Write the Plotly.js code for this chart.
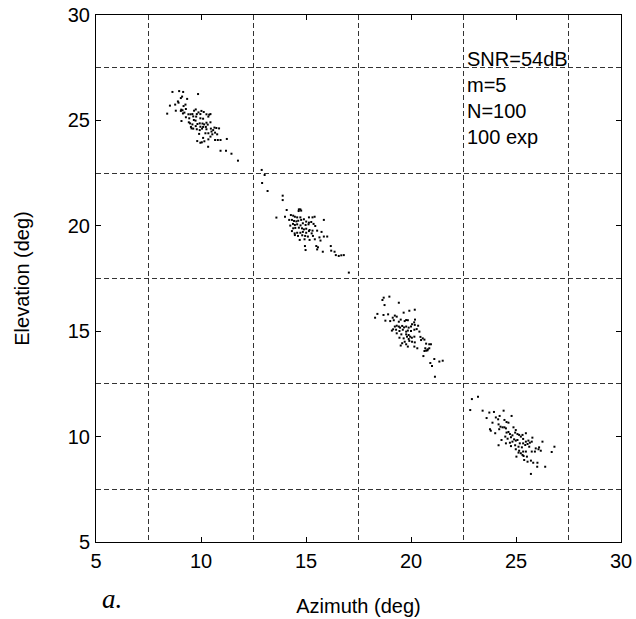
<!DOCTYPE html>
<html>
<head>
<meta charset="utf-8">
<script src="https://cdn.plot.ly/plotly-3.0.1.min.js"></script>
<style>html,body{margin:0;padding:0;background:#fff;}#chart{width:636px;height:619px;}</style>
</head>
<body>
<div id="chart"></div>
<script>
// Source 1 (near az 10, el 25)
const az1 = [8.64,8.96,9.15,9.86,9.10,9.04,9.34,8.90,8.93,8.52,8.77,9.26,9.17,9.06,9.12,9.04,9.75,9.67,9.28,10.02,10.13,9.88,8.39,8.80,9.14,9.21,9.40,9.50,9.59,9.80,9.97,10.26,10.39,10.45,10.35,9.28,9.44,9.63,9.77,9.97,10.10,9.74,9.07,9.42,9.66,10.26,10.45,9.48,9.59,9.83,9.94,10.07,10.15,10.32,9.75,9.97,10.10,10.23,9.52,9.55,10.64,10.73,10.86,9.63,9.80,9.94,10.05,10.26,10.47,10.58,10.67,10.50,10.35,9.91,10.21,10.77,10.54,10.10,10.45,10.35,10.16,9.82,9.97,10.04,10.67,10.80,10.93,11.23,10.34,10.93,11.19,11.45,11.76];
const el1 = [26.35,26.39,26.35,26.25,26.13,26.06,26.02,25.90,25.84,25.70,25.75,25.75,25.68,25.51,25.48,25.45,25.52,25.46,25.54,25.45,25.40,25.38,25.32,25.46,25.33,25.37,25.29,25.29,25.30,25.30,25.30,25.29,25.27,25.30,25.18,25.15,25.10,25.19,25.18,25.10,25.08,24.99,24.97,24.91,25.02,24.89,24.91,24.86,24.81,24.83,24.86,24.85,24.81,24.80,24.73,24.70,24.69,24.69,24.69,24.62,24.66,24.64,24.62,24.61,24.58,24.54,24.61,24.58,24.61,24.54,24.42,24.47,24.39,24.36,24.39,24.34,24.34,24.17,24.23,24.10,24.01,24.02,23.94,23.96,24.07,24.07,24.07,24.12,23.75,23.56,23.56,23.42,23.09];
// Source 2 (near az 15, el 20)
const az2 = [12.89,13.03,12.91,13.17,13.89,13.89,14.08,14.66,14.73,14.77,14.65,13.59,14.00,14.28,14.39,14.47,14.58,14.73,15.14,15.31,15.41,15.85,14.20,14.33,14.43,14.54,14.63,14.77,14.90,15.01,15.14,15.25,15.36,15.44,14.25,14.38,14.47,14.58,14.74,14.85,14.98,15.12,14.39,14.49,14.66,14.81,14.90,15.01,15.17,15.31,15.53,15.74,14.33,14.46,14.58,14.73,14.85,15.01,15.14,15.27,14.47,14.62,14.82,14.96,15.09,15.33,15.64,15.85,14.70,14.93,15.17,15.42,15.69,16.01,14.95,14.98,15.49,15.57,15.53,15.80,16.18,16.20,16.36,16.56,16.68,16.80,16.42,17.04];
const el2 = [22.65,22.41,22.03,21.65,21.43,21.22,20.75,20.78,20.78,20.72,20.70,20.39,20.43,20.51,20.48,20.43,20.40,20.40,20.40,20.40,20.43,20.28,20.28,20.28,20.23,20.21,20.24,20.28,20.31,20.20,20.15,20.18,20.09,19.99,20.01,20.09,20.04,20.07,20.02,20.12,20.04,20.07,19.88,19.90,19.91,19.88,19.83,19.86,19.80,19.77,19.77,19.71,19.75,19.64,19.67,19.67,19.71,19.67,19.75,19.64,19.56,19.52,19.55,19.52,19.49,19.52,19.45,19.49,19.33,19.36,19.33,19.36,19.30,19.49,19.04,18.85,19.04,18.98,18.88,18.77,19.04,18.82,18.77,18.57,18.60,18.61,18.61,17.78];
// Source 3 (near az 20, el 15)
const az3 = [18.70,18.64,18.97,18.74,19.42,19.92,20.18,18.40,18.29,18.69,18.91,19.13,18.78,19.23,19.32,19.65,19.77,20.19,20.15,19.01,19.18,19.42,19.51,19.70,19.85,20.05,20.18,20.34,19.23,19.32,19.42,19.48,19.58,19.67,19.77,19.89,20.00,19.09,19.15,19.29,19.45,19.61,19.77,19.85,20.00,20.16,20.27,20.40,19.32,19.54,19.77,19.89,19.96,19.81,20.04,20.16,20.45,20.56,20.64,19.45,19.65,19.89,19.70,19.92,20.05,20.18,20.48,19.58,19.77,19.51,19.85,20.16,20.30,20.72,20.87,20.95,20.68,20.80,20.87,20.64,20.72,20.78,20.59,21.11,21.35,21.51,20.92,21.00,21.14];
const el3 = [16.59,16.48,16.64,16.24,16.35,15.97,16.02,15.82,15.64,15.77,15.80,15.64,15.50,15.74,15.69,15.88,15.53,15.55,15.42,15.48,15.52,15.45,15.55,15.48,15.52,15.33,15.30,15.26,15.22,15.26,15.22,15.17,15.25,15.18,15.22,15.17,15.22,15.03,15.09,15.07,15.01,15.07,14.98,15.03,15.01,15.07,15.10,14.98,14.90,14.85,14.85,14.82,14.74,14.74,14.69,14.74,14.73,14.66,14.60,14.69,14.66,14.63,14.50,14.54,14.50,14.47,14.58,14.43,14.38,14.32,14.27,14.27,14.19,14.41,14.38,14.38,14.19,14.14,14.19,14.06,14.08,14.09,13.82,13.68,13.56,13.60,13.49,13.35,12.84];
// Source 4 (near az 25, el 10)
const az4 = [22.90,23.19,22.82,23.41,23.73,23.95,24.41,24.22,24.79,23.60,24.04,24.15,24.45,24.55,24.64,23.88,24.17,24.26,24.36,24.45,24.20,23.76,23.80,24.01,24.52,24.88,24.99,24.55,24.64,24.71,24.83,24.96,25.07,25.15,25.31,25.47,24.49,24.60,24.76,24.91,25.07,25.23,25.34,25.47,25.59,25.78,24.31,24.52,24.71,24.83,24.99,25.18,25.34,25.55,25.66,25.75,26.26,24.17,24.76,24.96,25.12,25.28,25.44,25.63,25.94,26.10,26.07,25.90,26.18,24.99,25.15,25.34,25.47,25.23,25.31,25.12,25.75,25.02,25.36,25.52,25.39,25.55,25.71,25.82,26.02,26.01,26.39,25.71,26.83,26.70];
const el4 = [11.78,11.89,11.26,11.23,11.14,11.17,11.23,10.98,10.98,10.88,10.91,10.82,10.79,10.69,10.66,10.66,10.58,10.47,10.44,10.44,10.35,10.35,10.28,10.16,10.39,10.44,10.31,10.19,10.22,10.12,10.06,10.19,10.12,10.08,10.08,10.16,10.00,9.90,9.97,9.87,9.84,10.00,9.89,9.76,9.81,9.95,9.84,9.68,9.71,9.76,9.81,9.68,9.68,9.65,9.71,9.76,9.76,9.59,9.55,9.59,9.52,9.49,9.60,9.52,9.44,9.49,9.40,9.29,9.33,9.40,9.33,9.29,9.29,9.21,9.13,9.24,9.29,9.05,9.08,9.05,8.89,8.81,8.86,8.76,8.76,8.57,8.57,8.23,9.52,9.27];

const tickVals = [5,10,15,20,25,30];
const infoLines = ["SNR=54dB","m=5","N=100","100 exp"];
const xTitle = "Azimuth (deg)";
const yTitle = "Elevation (deg)";
const panelLabel = "a.";

const FONT = "Liberation Sans, Arial, sans-serif";
const mk = {symbol:'square', size:2, color:'#000', line:{width:0}};
const srcs = [[az1,el1],[az2,el2],[az3,el3],[az4,el4]];
const traces = srcs.map(s => ({x:s[0], y:s[1], type:'scatter', mode:'markers', marker:mk, showlegend:false, hoverinfo:'none'}));

function axis(title, standoff){
  return {
    range:[5,30], tickmode:'array', tickvals:tickVals, ticktext:tickVals.map(String),
    ticks:'inside', ticklen:5, tickwidth:1, tickcolor:'#000',
    showline:true, linecolor:'#000', linewidth:1, mirror:'ticks',
    showgrid:false, zeroline:false,
    minor:{tickmode:'array', tickvals:[7.5,12.5,17.5,22.5,27.5], showgrid:true, griddash:'5px,3px', gridcolor:'#333', gridwidth:1, ticks:''},
    tickfont:{family:FONT, size:20, color:'#000'},
    ticklabelstandoff:1,
    title:{text:title, font:{family:FONT, size:20, color:'#000'}, standoff:standoff},
    automargin:false, fixedrange:true
  };
}

const layout = {
  width:636, height:619,
  margin:{l:96, r:15, t:15, b:77, pad:0},
  paper_bgcolor:'#fff', plot_bgcolor:'#fff',
  xaxis:axis(xTitle, 27),
  yaxis:axis(yTitle, 32),
  showlegend:false,
  annotations:[
    {xref:'x', yref:'y', x:22.55, y:26.05, xanchor:'left', yanchor:'middle', align:'left', showarrow:false,
     text:infoLines.join('<br>'), font:{family:FONT, size:20, color:'#000'}},
    {xref:'paper', yref:'paper', x:0.03, y:-0.108, xanchor:'center', yanchor:'middle', showarrow:false,
     text:'<i>'+panelLabel+'</i>', font:{family:'Liberation Serif, Times New Roman, serif', size:27, color:'#000'}}
  ]
};

Plotly.newPlot('chart', traces, layout, {staticPlot:true, displayModeBar:false});
</script>
</body>
</html>
